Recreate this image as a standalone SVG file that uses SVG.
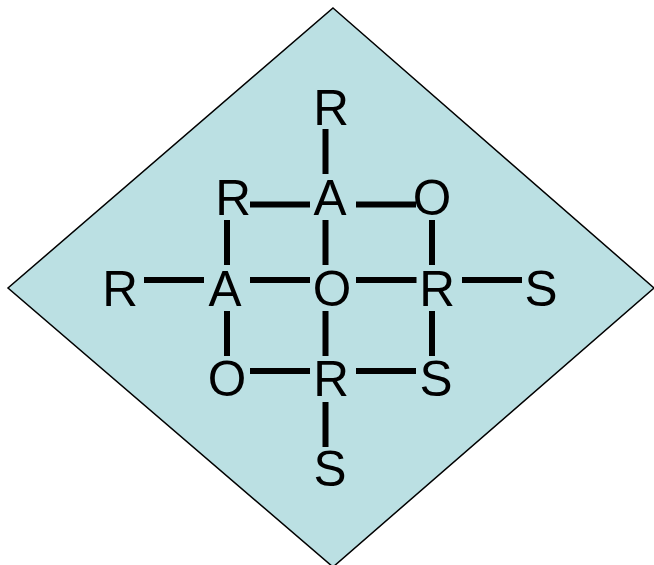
<svg xmlns="http://www.w3.org/2000/svg" width="654" height="565" viewBox="0 0 654 565">
<style>
.t{font-family:"Liberation Sans",Arial,sans-serif;font-size:49.5px;fill:#000;text-anchor:middle}
.b{stroke:#000;stroke-width:6;fill:none}
</style>
<rect width="654" height="565" fill="#fff"/>
<g id="diamond"><polygon points="333,8 654,288 333,567 8,288" fill="#bbe0e3" stroke="#000" stroke-width="1.5"/></g>
<g id="connectors">
<line class="b" x1="325.5" y1="129" x2="325.5" y2="174"/>
<line class="b" x1="250" y1="204.5" x2="310" y2="204.5"/>
<line class="b" x1="356" y1="204.5" x2="416" y2="204.5"/>
<line class="b" x1="227" y1="220" x2="227" y2="265"/>
<line class="b" x1="325.5" y1="220" x2="325.5" y2="265"/>
<line class="b" x1="432" y1="220" x2="432" y2="265"/>
<line class="b" x1="144" y1="280" x2="204" y2="280"/>
<line class="b" x1="250" y1="280" x2="310" y2="280"/>
<line class="b" x1="356" y1="280" x2="416.5" y2="280"/>
<line class="b" x1="462" y1="280" x2="522" y2="280"/>
<line class="b" x1="227" y1="311" x2="227" y2="356"/>
<line class="b" x1="325.5" y1="311" x2="325.5" y2="356"/>
<line class="b" x1="432" y1="311" x2="432" y2="356"/>
<line class="b" x1="250" y1="371" x2="310" y2="371"/>
<line class="b" x1="356" y1="371" x2="416" y2="371"/>
<line class="b" x1="325.5" y1="402" x2="325.5" y2="447"/>
</g>
<g id="n1"><text class="t" x="331" y="125">R</text></g>
<g id="n2"><text class="t" x="233" y="214.5">R</text></g>
<g id="n3"><text class="t" x="330" y="214.5">A</text></g>
<g id="n4"><text class="t" x="432" y="214.5">O</text></g>
<g id="n5"><text class="t" x="120" y="305.500">R</text></g>
<g id="n6"><text class="t" x="225" y="305.500">A</text></g>
<g id="n7"><text class="t" x="332" y="305.500">O</text></g>
<g id="n8"><text class="t" x="437" y="305.500">R</text></g>
<g id="n9"><text class="t" x="541" y="305.500">S</text></g>
<g id="n10"><text class="t" x="227" y="395.500">O</text></g>
<g id="n11"><text class="t" x="331" y="395.500">R</text></g>
<g id="n12"><text class="t" x="436" y="396">S</text></g>
<g id="n13"><text class="t" x="330" y="486">S</text></g>
</svg>
